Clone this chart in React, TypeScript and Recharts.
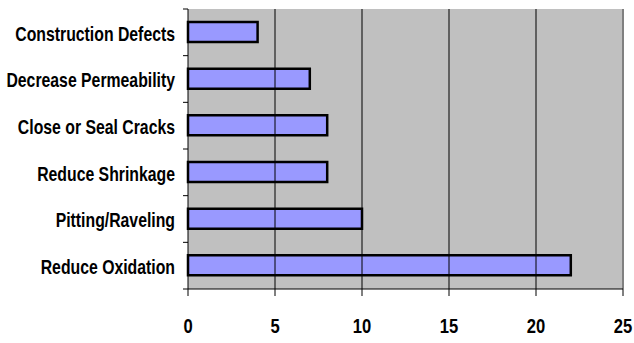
import { BarChart, Bar, XAxis, YAxis, CartesianGrid, ReferenceLine } from 'recharts';

const categories = [
  'Construction Defects',
  'Decrease Permeability',
  'Close or Seal Cracks',
  'Reduce Shrinkage',
  'Pitting/Raveling',
  'Reduce Oxidation',
];
const counts = [4, 7, 8, 8, 10, 22];
const xTicks = [0, 5, 10, 15, 20, 25];
const gridValues = [5, 10, 15, 20];

const data = categories.map((name, i) => ({ name, value: counts[i] }));

const FONT = "'Liberation Sans', Arial, sans-serif";
const SQUEEZE = 0.79;
const TOP = 9;
const XAXIS_H = 54;
const HEIGHT = 343;
const BAND = (HEIGHT - TOP - XAXIS_H) / categories.length;

function CategoryTick(props: any) {
  const { x, y, payload, index } = props;
  const ax = x + 8; // axis line position
  return (
    <g>
      <line x1={ax - 5} x2={ax} y1={y - BAND / 2} y2={y - BAND / 2} stroke="#000" />
      {index === categories.length - 1 && (
        <line x1={ax - 5} x2={ax} y1={y + BAND / 2} y2={y + BAND / 2} stroke="#000" />
      )}
      <g transform={`translate(${x - 5},${y + 1}) scale(${SQUEEZE},1)`}>
        <text
          x={0}
          y={0}
          dy="0.36em"
          textAnchor="end"
          fill="#000"
          fontFamily={FONT}
          fontWeight="bold"
          fontSize={20}
        >
          {payload.value}
        </text>
      </g>
    </g>
  );
}

function ValueTick(props: any) {
  const { x, y, payload } = props;
  return (
    <g transform={`translate(${x},${y - 2}) scale(${SQUEEZE},1)`}>
      <text
        x={0}
        y={0}
        dy="0.71em"
        textAnchor="middle"
        fill="#000"
        fontFamily={FONT}
        fontWeight="bold"
        fontSize={21}
      >
        {payload.value}
      </text>
    </g>
  );
}

export default function App() {
  return (
    <div style={{ position: 'absolute', left: 0, top: 0, background: '#fff' }}>
      <BarChart
        width={634}
        height={HEIGHT}
        data={data}
        layout="vertical"
        margin={{ top: TOP, right: 11, bottom: 0, left: 0 }}
        barCategoryGap={0}
      >
        <CartesianGrid horizontal={false} vertical={false} fill="#c0c0c0" />
        {gridValues.map((v) => (
          <ReferenceLine key={v} x={v} stroke="#000" strokeWidth={1} />
        ))}
        <ReferenceLine x={25} stroke="#808080" strokeWidth={2} />
        <XAxis
          type="number"
          domain={[0, 25]}
          ticks={xTicks}
          interval={0}
          height={XAXIS_H}
          tickSize={7}
          tickMargin={24}
          axisLine={{ stroke: '#000' }}
          tickLine={{ stroke: '#000' }}
          tick={<ValueTick />}
        />
        <YAxis
          type="category"
          dataKey="name"
          width={188}
          tickLine={false}
          axisLine={{ stroke: '#000' }}
          tick={<CategoryTick />}
          interval={0}
        />
        <Bar
          dataKey="value"
          fill="#9999ff"
          stroke="#000"
          strokeWidth={2.5}
          barSize={20}
          isAnimationActive={false}
        />
      </BarChart>
    </div>
  );
}
